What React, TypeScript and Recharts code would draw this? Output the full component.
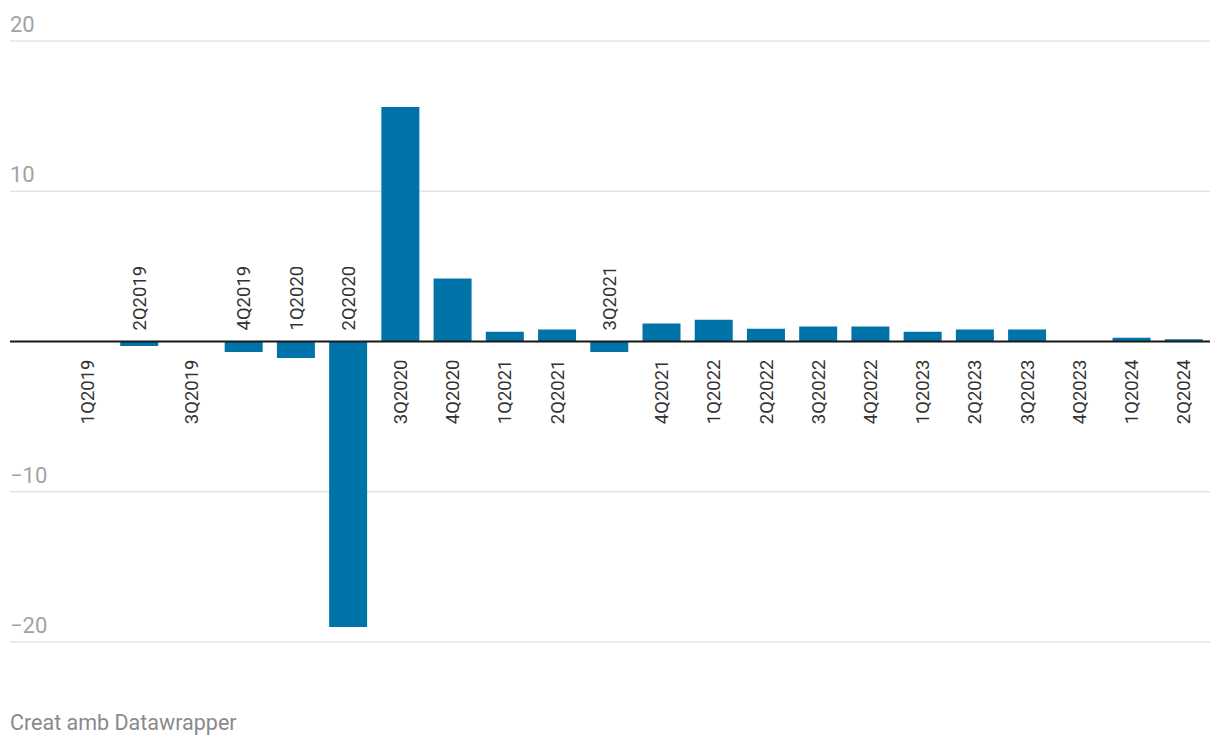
import React from "react";
import { ComposedChart, Bar, Line, XAxis, YAxis, CartesianGrid, ReferenceLine } from "recharts";

const quarters = [
  "1Q2019", "2Q2019", "3Q2019", "4Q2019",
  "1Q2020", "2Q2020", "3Q2020", "4Q2020",
  "1Q2021", "2Q2021", "3Q2021", "4Q2021",
  "1Q2022", "2Q2022", "3Q2022", "4Q2022",
  "1Q2023", "2Q2023", "3Q2023", "4Q2023",
  "1Q2024", "2Q2024",
];

const values = [
  0, -0.3, 0, -0.7,
  -1.1, -19.0, 15.6, 4.2,
  0.65, 0.8, -0.7, 1.2,
  1.45, 0.85, 1.0, 1.0,
  0.65, 0.8, 0.8, 0,
  0.25, 0.15,
];

const yTicks = [-20, -10, 0, 10, 20];

const data = quarters.map((q, i) => ({ q, v: values[i] }));

const FONT = "Roboto, 'Noto Sans', sans-serif";

const fmt = (v: number) => (v < 0 ? "\u2212" + Math.abs(v) : String(v));

const YTick = (props: any) => {
  const { y, payload } = props;
  if (payload.value === 0) return null;
  return (
    <text x={10} y={y - 9} fill="#a3a3a3" fontSize={22} fontFamily={FONT} textAnchor="start">
      {fmt(payload.value)}
    </text>
  );
};

// Rendered as the "dot" of an invisible baseline series (cy = zero line)
const LabelDot = (props: any) => {
  const { cx, cy, payload } = props;
  if (cx == null || cy == null || !payload) return null;
  const neg = payload.v < 0;
  const ty = neg ? cy - 11 : cy + 18;
  return (
    <text
      key={payload.q}
      transform={`translate(${cx + 6.5}, ${ty}) rotate(-90)`}
      x={0}
      y={0}
      fill="#333333"
      fontSize={18.5}
      fontFamily={FONT}
      textAnchor={neg ? "start" : "end"}
    >
      {payload.q}
    </text>
  );
};

export default function App() {
  return (
    <div style={{ position: "absolute", left: 0, top: 0, width: 1220, height: 748, background: "#fff" }}>
      <ComposedChart
        width={1220}
        height={748}
        data={data}
        margin={{ top: 41, right: 10, bottom: 106, left: 10 }}
      >
        <CartesianGrid horizontal={true} vertical={false} stroke="#e3e3e3" strokeWidth={1.5} />
        <XAxis dataKey="q" hide padding={{ left: 51, right: 0 }} />
        <YAxis
          domain={[-20, 20]}
          ticks={yTicks}
          width={60}
          mirror
          axisLine={false}
          tickLine={false}
          tick={<YTick />}
          interval={0}
        />
        <Bar dataKey="v" fill="#0073a8" barSize={38} isAnimationActive={false} />
        <ReferenceLine y={0} stroke="#1a1a1a" strokeWidth={2} />
        <Line
          dataKey={() => 0}
          stroke="none"
          dot={<LabelDot />}
          activeDot={false}
          isAnimationActive={false}
          legendType="none"
        />
      </ComposedChart>
      <div
        style={{
          position: "absolute",
          left: 10,
          top: 710,
          fontFamily: FONT,
          fontSize: 21.5,
          color: "#8a8a8a",
          whiteSpace: "nowrap",
        }}
      >
        Creat amb Datawrapper
      </div>
    </div>
  );
}
